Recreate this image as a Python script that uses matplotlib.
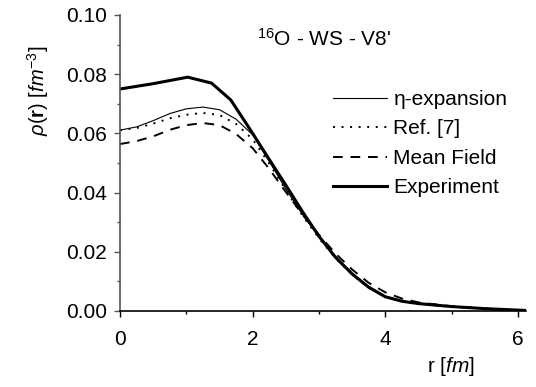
import matplotlib
matplotlib.use("Agg")
import matplotlib.pyplot as plt
from matplotlib.ticker import MultipleLocator

plt.rcParams['font.family'] = ['Liberation Sans', 'DejaVu Sans']
plt.rcParams['mathtext.fontset'] = 'custom'
plt.rcParams['mathtext.rm'] = 'Liberation Sans'
plt.rcParams['mathtext.it'] = 'Liberation Sans:italic'
plt.rcParams['mathtext.bf'] = 'Liberation Sans:bold'

# density curves, r in fm
r_eta = [0.0, 0.25, 0.5, 0.75, 1.0, 1.25, 1.5, 1.75, 2.0, 2.25, 2.5, 2.75, 3.0,
         3.25, 3.5, 3.75, 4.0, 4.25, 4.5, 5.0, 5.5, 6.0, 6.1]
rho_eta = [0.0611, 0.0622, 0.0643, 0.0667, 0.0683, 0.0689, 0.0680, 0.0648, 0.0595,
           0.0505, 0.0412, 0.0326, 0.0250, 0.0183, 0.0128, 0.0083, 0.0050, 0.0035,
           0.0025, 0.0015, 0.0008, 0.0003, 0.0002]

r_ref = r_eta
rho_ref = [0.0611, 0.0618, 0.0633, 0.0651, 0.0663, 0.0669, 0.0662, 0.0632, 0.0580,
           0.0498, 0.0408, 0.0322, 0.0246, 0.0178, 0.0123, 0.0078, 0.0048, 0.0033,
           0.0024, 0.0014, 0.0008, 0.0003, 0.0002]

r_mf = r_eta
rho_mf = [0.0564, 0.0574, 0.0590, 0.0612, 0.0628, 0.0635, 0.0628, 0.0598, 0.0550,
          0.0480, 0.0402, 0.0326, 0.0257, 0.0194, 0.0140, 0.0095, 0.0063, 0.0042,
          0.0029, 0.0016, 0.0008, 0.0003, 0.0002]

r_exp = [0.0, 0.5, 1.02, 1.38, 1.67, 2.0, 2.25, 2.5, 2.75, 3.0, 3.25, 3.5, 3.75,
         4.0, 4.25, 4.5, 5.0, 5.5, 6.1]
rho_exp = [0.0750, 0.0768, 0.0790, 0.0770, 0.0713, 0.0600, 0.0512, 0.0425, 0.0336,
           0.0252, 0.0181, 0.0125, 0.0080, 0.0048, 0.0033, 0.0025, 0.0015, 0.0008,
           0.0002]

labels = ['\u03b7-expansion', 'Ref. [7]', 'Mean Field', 'Experiment']

fig = plt.figure(figsize=(5.36, 3.87), dpi=100)
ax = fig.add_axes([120/536, 1-311/387, 406/536, 296/387])

ax.plot(r_eta, rho_eta, color='black', lw=0.8, label=labels[0])
ax.plot(r_ref, rho_ref, color='black', lw=1.4, linestyle=(0, (1, 3.4)), label=labels[1])
ax.plot(r_mf, rho_mf, color='black', lw=1.4, linestyle=(0, (5, 4)), label=labels[2])
ax.plot(r_exp, rho_exp, color='black', lw=2.2, label=labels[3])

ax.set_xlim(0, 6.12)
ax.set_ylim(0, 0.10)
ax.xaxis.set_major_locator(MultipleLocator(2))
ax.xaxis.set_minor_locator(MultipleLocator(1))
ax.yaxis.set_major_locator(MultipleLocator(0.02))
ax.yaxis.set_minor_locator(MultipleLocator(0.01))
ax.yaxis.set_major_formatter(matplotlib.ticker.FormatStrFormatter('%.2f'))

ax.spines['top'].set_visible(False)
ax.spines['right'].set_visible(False)
ax.spines['left'].set_color('#555555')
ax.spines['left'].set_linewidth(1.2)
ax.spines['bottom'].set_linewidth(1.2)
ax.tick_params(which='major', direction='out', length=4.5, width=1, labelsize=15, pad=5)
ax.tick_params(axis='x', which='major', pad=9)
ax.tick_params(which='minor', direction='out', length=2.5, width=1)
ax.tick_params(axis='y', which='both', color='#555555')

ax.set_xlabel(r'r [$\mathit{fm}$]', fontsize=15)
ax.xaxis.set_label_coords(0.815, -0.147)
ax.set_ylabel(r'$\rho$($\mathbf{r}$) [$\mathit{fm}^{-3}$]', fontsize=14.5)
ax.yaxis.set_label_coords(-0.17, 0.743)

ax.text(3.08, 0.0918, r"$^{16}$O - WS - V8'", fontsize=15, ha='center', va='center')

ax.legend(loc='upper left', bbox_to_anchor=(333/536, 1-90/387), bbox_transform=fig.transFigure,
          frameon=False, fontsize=15, handlelength=2.6, handletextpad=0.3,
          labelspacing=0.5, borderpad=0, borderaxespad=0)

fig.savefig('out.png', dpi=100)
